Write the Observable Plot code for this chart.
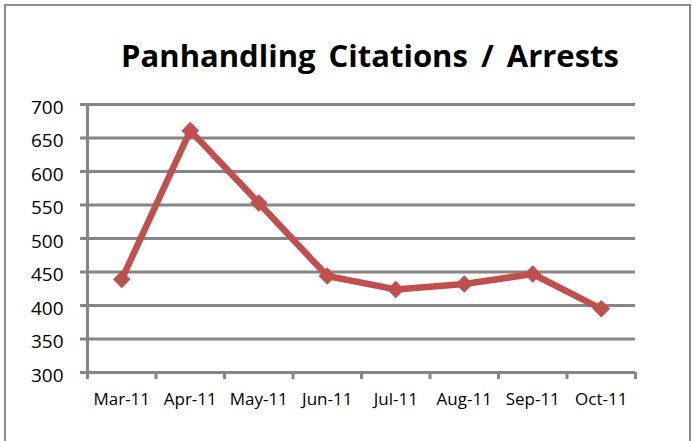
<!DOCTYPE html>
<html><head><meta charset="utf-8">
<script src="https://cdn.jsdelivr.net/npm/d3@7"></script>
<script src="https://cdn.jsdelivr.net/npm/@observablehq/plot@0.6"></script>
<style>
html,body{margin:0;padding:0;background:#fff;}
#wrap{position:relative;width:693px;height:441px;overflow:hidden;background:#fff;font-family:"Open Sans",sans-serif;}
#border{position:absolute;left:4px;top:4px;width:687px;height:470px;border:2px solid #8c8c8c;box-sizing:border-box;}
#title{position:absolute;left:0;width:740px;top:40px;text-align:center;font-weight:700;font-size:31px;word-spacing:5px;line-height:1;color:#000;white-space:nowrap;}
#chart{position:absolute;left:0;top:0;}
</style>
</head><body>
<div id="wrap"><div id="border"></div><div id="title">Panhandling Citations / Arrests</div><div id="chart"></div></div>
<script>
const title = "Panhandling Citations / Arrests";
const months = ["Mar-11","Apr-11","May-11","Jun-11","Jul-11","Aug-11","Sep-11","Oct-11"];
const values = [439, 661, 553, 444, 424, 432, 447, 395];
const yTicks = [300, 350, 400, 450, 500, 550, 600, 650, 700];

const data = months.map((m, i) => ({i, month: m, value: values[i]}));
const boundaries = d3.range(-0.5, months.length, 1);
const grey = "#868686";
const red = "#C0504D";

const plot = Plot.plot({
  width: 693, height: 441,
  marginLeft: 87, marginRight: 58, marginTop: 104, marginBottom: 69,
  style: {fontFamily: "Open Sans", background: "transparent", overflow: "visible", color: "#000"},
  x: {type: "linear", domain: [-0.5, months.length - 0.5]},
  y: {domain: [300, 700]},
  marks: [
    Plot.ruleY(yTicks, {stroke: grey, strokeWidth: 3, insetLeft: -7}),
    Plot.ruleX([-0.5], {stroke: grey, strokeWidth: 3}),
    Plot.ruleX(boundaries, {y1: 300, y2: 300, insetBottom: -7, stroke: grey, strokeWidth: 3}),
    Plot.axisY({ticks: yTicks, tickSize: 0, tickPadding: 24, fontSize: 19, dy: 3, label: null, fill: "#000"}),
    Plot.axisX({ticks: d3.range(months.length), tickFormat: i => months[i], tickSize: 0, tickPadding: 20, fontSize: 17, label: null, fill: "#000"}),
    Plot.line(data, {x: "i", y: "value", stroke: red, strokeWidth: 6.5, strokeLinejoin: "round"}),
    Plot.dot(data, {x: "i", y: "value", symbol: "square", rotate: 45, r: 7, fill: red, stroke: null})
  ]
});
document.getElementById("chart").appendChild(plot);
document.getElementById("title").textContent = title;
</script>
</body></html>
